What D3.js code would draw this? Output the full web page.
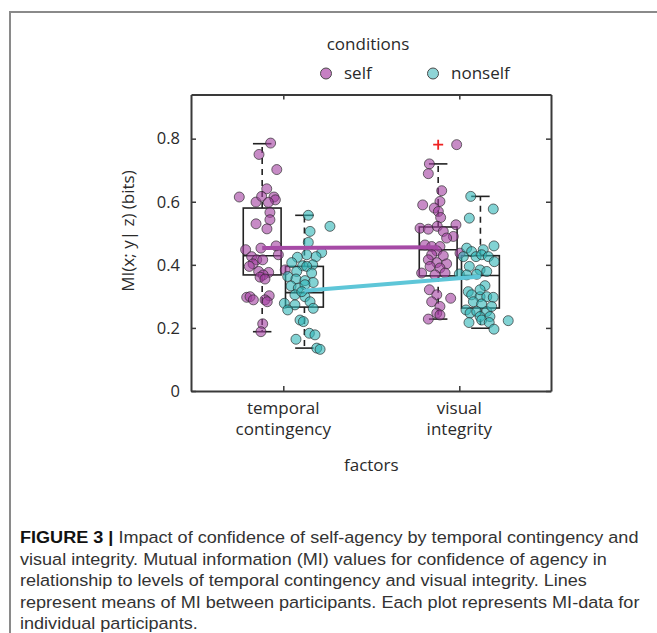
<!DOCTYPE html>
<html>
<head>
<meta charset="utf-8">
<script src="https://cdn.jsdelivr.net/npm/d3@7/dist/d3.min.js"></script>
<style>
  html, body { margin: 0; padding: 0; background: #fff; }
  svg { display: block; }
</style>
</head>
<body>
<svg id="chart" width="657" height="633"></svg>
<script>
// ---------------- DATA ----------------
const factors = ["temporal contingency", "visual integrity"];
const factorTicks = [1, 2];
const factorLabels = [["temporal", "contingency"], ["visual", "integrity"]];
const conditions = ["self", "nonself"];
const yTicks = [0, 0.2, 0.4, 0.6, 0.8];
const yTickLabels = ["0", "0.2", "0.4", "0.6", "0.8"];

// individual participants: x (factor position with jitter), MI value
const temporalSelfX = [0.928,0.862,0.963,0.750,0.906,0.845,0.877,0.947,0.955,0.915,0.924,0.924,0.845,0.907,0.786,0.873,0.959,0.972,0.820,0.849,0.883,0.828,0.807,0.860,0.917,0.886,0.868,0.896,1.011,0.792,0.811,0.830,0.920,0.896,0.909,0.883,0.873];
const temporalSelfY = [0.786,0.750,0.702,0.615,0.641,0.599,0.617,0.615,0.606,0.598,0.566,0.543,0.530,0.514,0.448,0.453,0.460,0.432,0.426,0.416,0.416,0.403,0.395,0.379,0.376,0.368,0.361,0.355,0.384,0.297,0.299,0.289,0.302,0.289,0.283,0.213,0.188];

const temporalNonselfX = [1.142,1.265,1.152,1.142,1.218,1.186,1.133,1.080,1.048,1.167,1.110,1.133,1.076,1.161,1.025,1.072,1.123,1.170,1.044,1.085,1.066,1.123,1.152,1.006,1.066,1.170,1.025,1.095,1.114,1.148,1.180,1.072,1.190,1.209,1.123,1.105];
const temporalNonselfY = [0.557,0.522,0.506,0.471,0.439,0.426,0.432,0.424,0.407,0.400,0.397,0.395,0.379,0.374,0.363,0.355,0.350,0.344,0.333,0.326,0.305,0.299,0.283,0.278,0.273,0.262,0.257,0.225,0.220,0.183,0.178,0.164,0.136,0.132,0.337,0.315];

const visualSelfX = [1.985,1.830,1.824,1.900,1.890,1.792,1.858,1.881,1.894,1.777,1.824,1.875,1.981,1.909,1.966,1.928,1.805,1.843,1.890,1.872,2.004,1.843,1.824,1.909,1.872,1.928,1.834,1.890,1.786,1.862,1.919,1.830,1.872,1.951,1.843,1.890,1.872,1.824,1.890];
const visualSelfY = [0.781,0.720,0.689,0.635,0.601,0.590,0.580,0.569,0.550,0.516,0.513,0.522,0.527,0.506,0.490,0.485,0.463,0.458,0.458,0.444,0.437,0.432,0.416,0.429,0.407,0.403,0.395,0.390,0.374,0.368,0.374,0.321,0.305,0.294,0.283,0.268,0.247,0.228,0.241];

const visualNonselfX = [2.065,2.193,2.057,2.000,2.042,2.070,2.136,2.197,2.023,2.095,2.127,2.165,2.199,2.057,2.118,2.156,2.042,2.099,2.146,2.051,2.070,2.118,2.156,2.193,2.080,2.127,2.038,2.061,2.099,2.156,2.118,2.174,2.055,2.127,2.170,2.197,2.278,2.118,2.184];
const visualNonselfY = [0.617,0.577,0.548,0.371,0.453,0.442,0.448,0.460,0.426,0.426,0.432,0.426,0.410,0.395,0.384,0.379,0.368,0.370,0.334,0.315,0.305,0.299,0.299,0.297,0.283,0.276,0.257,0.247,0.252,0.252,0.236,0.236,0.217,0.225,0.217,0.196,0.223,0.321,0.268];

// box statistics: [lower whisker, Q1, median, Q3, upper whisker]
const boxPositions = [0.88, 1.12, 1.88, 2.12];
const boxConditions = ["self", "nonself", "self", "nonself"];
const boxStats = [
  [0.188, 0.368, 0.429, 0.580, 0.784],
  [0.136, 0.266, 0.312, 0.395, 0.557],
  [0.228, 0.365, 0.448, 0.520, 0.720],
  [0.199, 0.263, 0.366, 0.429, 0.617]
];
const outlierX = [1.88];
const outlierY = [0.781];

// means across participants
const selfMeanX = [0.88, 1.88];
const selfMean = [0.453, 0.456];
const nonselfMeanX = [1.12, 2.12];
const nonselfMean = [0.318, 0.363];

const captionLines = [
  ["FIGURE 3 |", " Impact of confidence of self-agency by temporal contingency and"],
  ["", "visual integrity. Mutual information (MI) values for confidence of agency in"],
  ["", "relationship to levels of temporal contingency and visual integrity. Lines"],
  ["", "represent means of MI between participants. Each plot represents MI-data for"],
  ["", "individual participants."]
];

// ---------------- DRAWING ----------------
const svg = d3.select("#chart");
const FONT = "'Open Sans', 'Noto Sans', sans-serif";
const selfFill = "#a23ea0", nonselfFill = "#2fb6b8";
const selfLine = "#a64ba6", nonselfLine = "#5ec6d8";

// frame of the figure panel
svg.append("line").attr("x1", 9).attr("x2", 657).attr("y1", 12).attr("y2", 12).attr("stroke", "#8a8a8a").attr("stroke-width", 2);
svg.append("line").attr("x1", 10).attr("x2", 10).attr("y1", 11).attr("y2", 633).attr("stroke", "#8a8a8a").attr("stroke-width", 2);

const L = 191, R = 551, T = 94.5, B = 391;
const x = d3.scaleLinear().domain([0.4756, 2.521]).range([L, R]);
const y = d3.scaleLinear().domain([0, 0.94]).range([B, T]);

// axes
const gl = svg.append("g").attr("transform", `translate(${L},0)`)
  .call(d3.axisLeft(y).tickValues(yTicks).tickFormat((d, i) => yTickLabels[i]).tickSize(-5).tickSizeOuter(0).tickPadding(11));
const gr = svg.append("g").attr("transform", `translate(${R},0)`)
  .call(d3.axisRight(y).tickValues(yTicks).tickFormat("").tickSize(-5).tickSizeOuter(0));
const gb = svg.append("g").attr("transform", `translate(0,${B})`)
  .call(d3.axisBottom(x).tickValues(factorTicks).tickFormat("").tickSize(-5).tickSizeOuter(0));
const gt = svg.append("g").attr("transform", `translate(0,${T})`)
  .call(d3.axisTop(x).tickValues(factorTicks).tickFormat("").tickSize(-5).tickSizeOuter(0));
[gl, gr, gb, gt].forEach(g => {
  g.select(".domain").attr("stroke", "#3a3a3a").attr("stroke-width", 2);
  g.selectAll(".tick line").attr("stroke", "#3a3a3a").attr("stroke-width", 1.5);
});
gl.selectAll(".tick text").attr("font-family", FONT).attr("font-size", 16.5).attr("fill", "#2a2a2a");

// x tick labels (two lines)
factorTicks.forEach((t, i) => {
  const tx = svg.append("text").attr("text-anchor", "middle")
    .attr("font-family", FONT).attr("font-size", 17).attr("fill", "#2a2a2a");
  factorLabels[i].forEach((s, j) => {
    tx.append("tspan").attr("x", x(t)).attr("y", 414 + j * 21).text(s);
  });
});

// axis titles
svg.append("text").attr("x", x(1.5)).attr("y", 471).attr("text-anchor", "middle")
  .attr("font-family", FONT).attr("font-size", 17).attr("fill", "#2a2a2a").text("factors");
svg.append("text").attr("transform", `translate(134,${231}) rotate(-90)`).attr("text-anchor", "middle")
  .attr("font-family", FONT).attr("font-size", 17).attr("fill", "#2a2a2a").text("MI(x; y| z) (bits)");

// legend
svg.append("text").attr("x", 368).attr("y", 50).attr("text-anchor", "middle")
  .attr("font-family", FONT).attr("font-size", 17).attr("fill", "#2a2a2a").text("conditions");
const legendX = [326, 433];
const legendFill = ["#c680c3", "#8ed4d6"];
conditions.forEach((c, i) => {
  svg.append("circle").attr("cx", legendX[i]).attr("cy", 73.5).attr("r", 5.5)
    .attr("fill", legendFill[i]).attr("stroke", "#4a4a4a").attr("stroke-width", 1);
  svg.append("text").attr("x", legendX[i] + 18).attr("y", 79)
    .attr("font-family", FONT).attr("font-size", 17).attr("fill", "#2a2a2a").text(c);
});

// box plots
const bw = 0.215, capW = 0.105;
const boxes = svg.append("g");
boxStats.forEach((s, i) => {
  const cx = boxPositions[i];
  const g = boxes.append("g");
  g.append("line").attr("x1", x(cx)).attr("x2", x(cx)).attr("y1", y(s[3])).attr("y2", y(s[4]))
    .attr("stroke", "#222").attr("stroke-width", 1.6).attr("stroke-dasharray", "6,5");
  g.append("line").attr("x1", x(cx)).attr("x2", x(cx)).attr("y1", y(s[1])).attr("y2", y(s[0]))
    .attr("stroke", "#222").attr("stroke-width", 1.6).attr("stroke-dasharray", "6,5");
  [s[0], s[4]].forEach(v => {
    g.append("line").attr("x1", x(cx - capW / 2)).attr("x2", x(cx + capW / 2)).attr("y1", y(v)).attr("y2", y(v))
      .attr("stroke", "#222").attr("stroke-width", 1.6);
  });
  g.append("rect").attr("x", x(cx - bw / 2)).attr("y", y(s[3])).attr("width", x(cx + bw / 2) - x(cx - bw / 2))
    .attr("height", y(s[1]) - y(s[3])).attr("fill", "none").attr("stroke", "#222").attr("stroke-width", 1.6);
  g.append("line").attr("x1", x(cx - bw / 2)).attr("x2", x(cx + bw / 2)).attr("y1", y(s[2])).attr("y2", y(s[2]))
    .attr("stroke", "#222").attr("stroke-width", 1.6);
});

// participant points
const groups = [
  [temporalSelfX, temporalSelfY, selfFill],
  [temporalNonselfX, temporalNonselfY, nonselfFill],
  [visualSelfX, visualSelfY, selfFill],
  [visualNonselfX, visualNonselfY, nonselfFill]
];
groups.forEach(([xs, ys, col]) => {
  svg.append("g").selectAll("circle").data(ys).join("circle")
    .attr("cx", (d, i) => x(xs[i])).attr("cy", d => y(d)).attr("r", 5)
    .attr("fill", col).attr("fill-opacity", 0.6)
    .attr("stroke", "#2a2a2a").attr("stroke-opacity", 0.75).attr("stroke-width", 0.9);
});

// outlier marker
outlierY.forEach((v, i) => {
  const px = x(outlierX[i]), py = y(v);
  svg.append("path").attr("d", `M${px - 5},${py}H${px + 5}M${px},${py - 5}V${py + 5}`)
    .attr("stroke", "#ee2222").attr("stroke-width", 1.8).attr("fill", "none");
});

// mean lines
const line = d3.line().x(d => x(d[0])).y(d => y(d[1]));
svg.append("path").attr("d", line(selfMeanX.map((v, i) => [v, selfMean[i]])))
  .attr("stroke", selfLine).attr("stroke-width", 4).attr("fill", "none");
svg.append("path").attr("d", line(nonselfMeanX.map((v, i) => [v, nonselfMean[i]])))
  .attr("stroke", nonselfLine).attr("stroke-width", 4).attr("fill", "none");

// caption: a condensed sans, one common horizontal scale fitted so line 1 spans ~619px
const CAPFONT = "'Liberation Sans', Arial, sans-serif";
const capTexts = captionLines.map(ln => {
  const t = svg.append("text").attr("x", 0).attr("y", 0)
    .attr("font-family", CAPFONT).attr("font-size", 17).attr("fill", "#333");
  if (ln[0]) t.append("tspan").attr("font-weight", "bold").attr("fill", "#111").text(ln[0]);
  t.append("tspan").text(ln[1]);
  return t;
});
const sx = 619 / capTexts[0].node().getComputedTextLength();
capTexts.forEach((t, i) => {
  t.attr("transform", `translate(20,${543 + i * 21.5}) scale(${sx},1)`);
});
</script>
</body>
</html>
